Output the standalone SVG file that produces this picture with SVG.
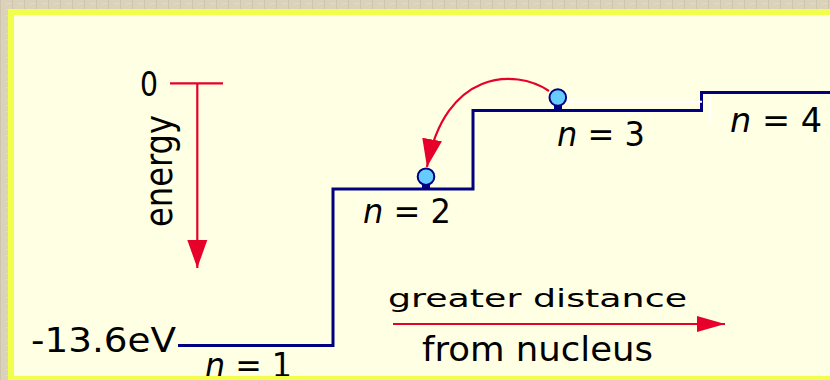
<svg xmlns="http://www.w3.org/2000/svg" width="830" height="380" viewBox="0 0 830 380">
<defs>
<style>
.lbl{font-family:"DejaVu Sans","Liberation Sans",sans-serif;fill:#000;}
.big{font-size:34px;}
.small{font-size:25px;}
.red{stroke:#e6002a;stroke-width:2.2;fill:none;}
.dot{fill:#66ccff;stroke:#000080;stroke-width:2;}
.stem{fill:#000080;}
</style>
<pattern id="tex" width="12" height="6" patternUnits="userSpaceOnUse">
<rect width="12" height="6" fill="#dbd2bc"/>
<rect x="0" y="0" width="1" height="6" fill="#cfc5ad"/>
<rect x="6" y="3" width="6" height="1" fill="#e3dbc7"/>
</pattern>
<marker id="ah" markerWidth="30" markerHeight="22" refX="28" refY="11" orient="auto" markerUnits="userSpaceOnUse">
<path d="M0,1 L28,11 L0,21 Z" fill="#e6002a"/>
</marker>
<marker id="ah2" markerWidth="30" markerHeight="18" refX="28" refY="9" orient="auto" markerUnits="userSpaceOnUse">
<path d="M0,1 L28,9 L0,17 Z" fill="#e6002a"/>
</marker>
</defs>
<rect x="0" y="0" width="830" height="380" fill="url(#tex)"/>
<rect x="8" y="9" width="830" height="380" fill="#f2ff4a"/>
<rect x="14" y="15" width="830" height="361" fill="#ffffe3"/>

<g id="levels">
<polyline points="178,345.5 333,345.5 333,189 473,189 473,110.5 701.5,110.5 701.5,92.5 830,92.5" fill="none" stroke="#000080" stroke-width="3"/>
<line x1="568" y1="101.7" x2="702" y2="101.7" stroke="#ffffff" stroke-width="2"/>
<line x1="710" y1="95" x2="710" y2="123" stroke="#ffffff" stroke-width="2"/>
</g>

<g id="connectors">
<line class="red" x1="170" y1="83.3" x2="223" y2="83.3"/>
<line class="red" x1="197.3" y1="83.3" x2="197.3" y2="268" marker-end="url(#ah)"/>
<line class="red" x1="393" y1="324" x2="725" y2="324" marker-end="url(#ah2)"/>
<path class="red" d="M549,91 C515,68 445,70 427,167" marker-end="url(#ah)"/>
</g>

<g id="electron2">
<rect class="stem" x="422" y="183" width="8" height="5"/>
<circle class="dot" cx="426" cy="176.7" r="8.3"/>
</g>
<g id="electron3">
<rect class="stem" x="554" y="104" width="8" height="5"/>
<circle class="dot" cx="557.8" cy="97.5" r="8.3"/>
</g>

<g id="labels">
<text class="lbl big" x="140" y="96" textLength="18" lengthAdjust="spacingAndGlyphs">0</text>
<text class="lbl" transform="translate(171.7,227) rotate(-90)" x="0" y="0" textLength="112" lengthAdjust="spacingAndGlyphs" font-size="38">energy</text>
<text class="lbl big" x="31" y="352" textLength="145" lengthAdjust="spacingAndGlyphs">-13.6eV</text>
<text class="lbl big" x="205" y="377" textLength="87" lengthAdjust="spacingAndGlyphs"><tspan font-style="italic">n</tspan> = 1</text>
<text class="lbl big" x="363" y="223" textLength="88" lengthAdjust="spacingAndGlyphs"><tspan font-style="italic">n</tspan> = 2</text>
<text class="lbl big" x="557" y="146" textLength="88" lengthAdjust="spacingAndGlyphs"><tspan font-style="italic">n</tspan> = 3</text>
<text class="lbl big" x="730" y="131.7" textLength="92" lengthAdjust="spacingAndGlyphs"><tspan font-style="italic">n</tspan> = 4</text>
<text class="lbl small" x="388" y="306.7" textLength="299" lengthAdjust="spacingAndGlyphs">greater distance</text>
<text class="lbl big" x="422" y="360.7" textLength="231" lengthAdjust="spacingAndGlyphs">from nucleus</text>
</g>

<rect x="8" y="376" width="830" height="4" fill="#f2ff4a"/>
</svg>
